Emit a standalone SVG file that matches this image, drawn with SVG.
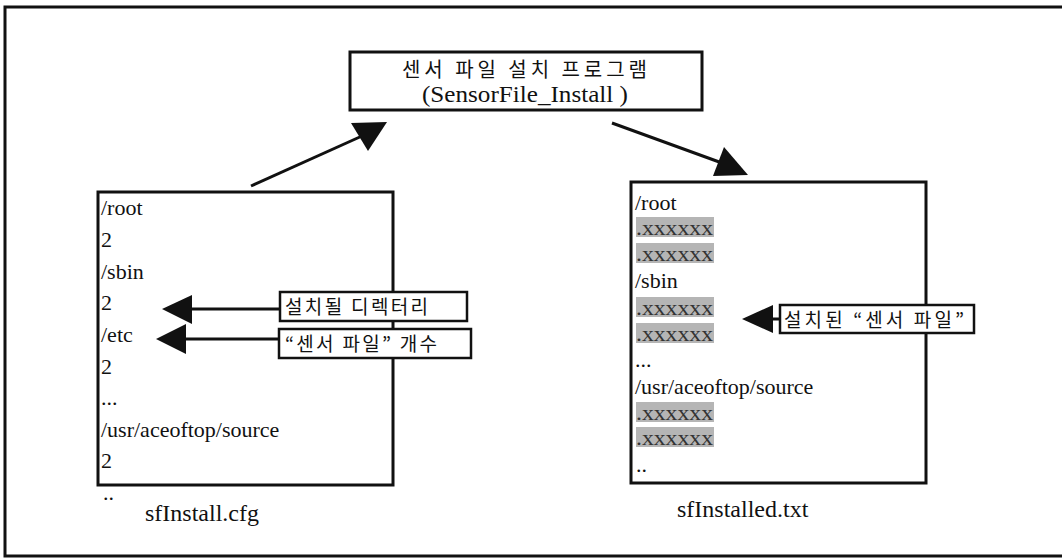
<svg xmlns="http://www.w3.org/2000/svg" width="1062" height="558" viewBox="0 0 1062 558">
<style>
.box{fill:#fff;stroke:#111;stroke-width:3}
.lbl{fill:#fff;stroke:#111;stroke-width:2.5}
.t{font-size:22px;fill:#111}
.cap{font-size:24px;fill:#111}
.k{font-family:'Noto Sans CJK KR','Noto Sans',sans-serif;font-size:19px;fill:#111}
.hl{fill:#b5b5b5}
.x{font-size:22px;fill:#333}
.ln{stroke:#111;stroke-width:3;fill:none}
.ah{fill:#111}
</style>
<path d="M1064,7 H5 V556 H1064" fill="none" stroke="#111" stroke-width="3"/>
<g id="program" font-family="Liberation Serif, DejaVu Serif, serif">
<rect class="box" x="350" y="52" width="352" height="58"/>
<text class="k" x="402" y="77" textLength="245" lengthAdjust="spacing" style="font-size:20px">센서 파일 설치 프로그램</text>
<text class="t" x="422" y="102" textLength="206" lengthAdjust="spacingAndGlyphs" style="font-size:23px">(SensorFile_Install )</text>
</g>
<g id="cfg" font-family="Liberation Serif, DejaVu Serif, serif">
<rect class="box" x="98" y="192" width="295" height="293"/>
<text class="t" x="101" y="215">/root</text>
<text class="t" x="101" y="247">2</text>
<text class="t" x="101" y="279">/sbin</text>
<text class="t" x="101" y="310">2</text>
<text class="t" x="101" y="342">/etc</text>
<text class="t" x="101" y="374">2</text>
<text class="t" x="101" y="405">...</text>
<text class="t" x="101" y="437">/usr/aceoftop/source</text>
<text class="t" x="101" y="468">2</text>
<text class="t" x="103" y="500">..</text>
<text class="cap" x="145" y="521">sfInstall.cfg</text>
</g>
<g id="installed" font-family="Liberation Serif, DejaVu Serif, serif">
<rect class="box" x="631" y="182" width="295" height="301"/>
<text class="t" x="635" y="210">/root</text>
<rect class="hl" x="636" y="217" width="78" height="20"/>
<text class="x" x="636" y="235" textLength="77" lengthAdjust="spacingAndGlyphs">.xxxxxx</text>
<rect class="hl" x="636" y="243" width="78" height="20"/>
<text class="x" x="636" y="261" textLength="77" lengthAdjust="spacingAndGlyphs">.xxxxxx</text>
<text class="t" x="635" y="288">/sbin</text>
<rect class="hl" x="636" y="297" width="78" height="20"/>
<text class="x" x="636" y="315" textLength="77" lengthAdjust="spacingAndGlyphs">.xxxxxx</text>
<rect class="hl" x="636" y="323" width="78" height="20"/>
<text class="x" x="636" y="341" textLength="77" lengthAdjust="spacingAndGlyphs">.xxxxxx</text>
<text class="t" x="635" y="367">...</text>
<text class="t" x="635" y="394">/usr/aceoftop/source</text>
<rect class="hl" x="636" y="402" width="78" height="20"/>
<text class="x" x="636" y="420" textLength="77" lengthAdjust="spacingAndGlyphs">.xxxxxx</text>
<rect class="hl" x="636" y="427" width="78" height="20"/>
<text class="x" x="636" y="445" textLength="77" lengthAdjust="spacingAndGlyphs">.xxxxxx</text>
<text class="t" x="636" y="472">..</text>
<text class="cap" x="677" y="517">sfInstalled.txt</text>
</g>
<g id="label-dir">
<rect class="lbl" x="280" y="292" width="187" height="29"/>
<text class="k" x="285" y="314" textLength="143" lengthAdjust="spacing">설치될 디렉터리</text>
</g>
<g id="label-count">
<rect class="lbl" x="279" y="329" width="192" height="29"/>
<text class="k" x="285" y="351" textLength="152" lengthAdjust="spacing">“센서 파일” 개수</text>
</g>
<g id="label-installed">
<rect class="lbl" x="780" y="305" width="194" height="28"/>
<text class="k" x="784" y="327" textLength="180" lengthAdjust="spacing">설치된 “센서 파일”</text>
</g>
<g id="connectors">
<line class="ln" x1="251" y1="186" x2="362" y2="136"/>
<polygon class="ah" points="387,122 351,123 368,151"/>
<line class="ln" x1="612" y1="123" x2="722" y2="163"/>
<polygon class="ah" points="748,175 724,147 713,176"/>
<line class="ln" x1="190" y1="309" x2="280" y2="309"/>
<polygon class="ah" points="162,309 192,295 192,324"/>
<line class="ln" x1="184" y1="339" x2="279" y2="339"/>
<polygon class="ah" points="156,339 186,324 186,354"/>
<line class="ln" x1="771" y1="319" x2="780" y2="319"/>
<polygon class="ah" points="742,319 773,305 773,333"/>
</g>
</svg>
